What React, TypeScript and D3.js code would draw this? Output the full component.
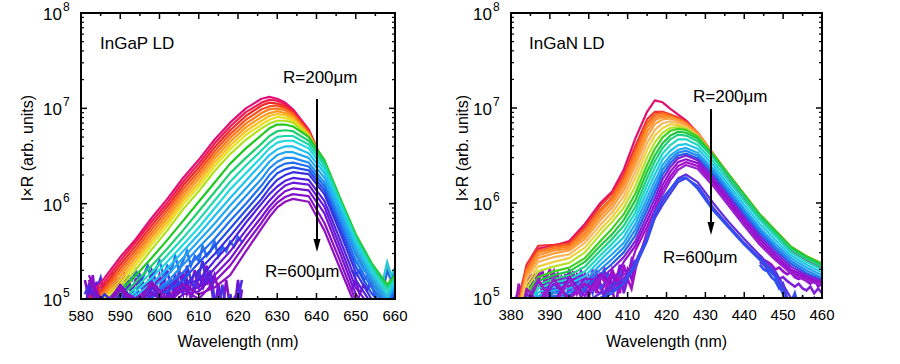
import React from "react";
import * as d3 from "d3";

// wavelength grids (nm) and log10(I x R) for each spectrum, R = 200um (first) ... 600um (last)
const ingapWl = [582, 586, 590, 594, 598, 602, 606, 610, 614, 618, 622, 626, 628, 630, 632, 634, 638, 642, 646, 650, 654, 658, 660];
const ingapLog = [
  [5.02, 5.22, 5.44, 5.63, 5.85, 6.05, 6.27, 6.46, 6.67, 6.85, 7.0, 7.1, 7.12, 7.1, 7.06, 6.99, 6.78, 6.4, 5.95, 5.48, 5.18, 4.95, 5.1],
  [4.98, 5.18, 5.4, 5.6, 5.81, 6.01, 6.23, 6.42, 6.63, 6.81, 6.96, 7.06, 7.09, 7.08, 7.04, 6.97, 6.77, 6.4, 5.96, 5.5, 5.2, 4.97, 5.12],
  [4.95, 5.14, 5.36, 5.56, 5.77, 5.97, 6.19, 6.38, 6.59, 6.77, 6.92, 7.03, 7.06, 7.05, 7.02, 6.96, 6.76, 6.41, 5.97, 5.52, 5.22, 5.0, 5.13],
  [4.92, 5.11, 5.32, 5.52, 5.73, 5.93, 6.15, 6.34, 6.55, 6.73, 6.88, 6.99, 7.02, 7.03, 7.0, 6.95, 6.75, 6.42, 5.98, 5.54, 5.24, 5.02, 5.15],
  [4.9, 5.08, 5.28, 5.48, 5.69, 5.89, 6.11, 6.3, 6.51, 6.69, 6.84, 6.95, 6.99, 7.0, 6.98, 6.93, 6.74, 6.42, 5.99, 5.56, 5.26, 5.04, 5.17],
  [4.88, 5.05, 5.24, 5.44, 5.65, 5.85, 6.07, 6.26, 6.47, 6.65, 6.8, 6.91, 6.95, 6.97, 6.95, 6.91, 6.73, 6.43, 6.0, 5.58, 5.28, 5.06, 5.19],
  [4.85, 5.02, 5.2, 5.4, 5.61, 5.81, 6.03, 6.22, 6.43, 6.61, 6.76, 6.87, 6.92, 6.94, 6.93, 6.89, 6.72, 6.43, 6.01, 5.6, 5.3, 5.08, 5.2],
  [4.82, 4.99, 5.16, 5.36, 5.57, 5.77, 5.99, 6.18, 6.39, 6.57, 6.72, 6.83, 6.88, 6.91, 6.9, 6.87, 6.71, 6.44, 6.02, 5.62, 5.32, 5.1, 5.22],
  [4.8, 4.95, 5.12, 5.31, 5.52, 5.72, 5.94, 6.13, 6.34, 6.52, 6.67, 6.79, 6.84, 6.87, 6.87, 6.85, 6.71, 6.44, 6.03, 5.64, 5.35, 5.12, 5.24],
  [4.8, 4.92, 5.08, 5.25, 5.43, 5.62, 5.82, 6.02, 6.22, 6.42, 6.58, 6.72, 6.79, 6.83, 6.83, 6.81, 6.7, 6.46, 6.06, 5.68, 5.38, 5.15, 5.25],
  [4.75, 4.88, 5.02, 5.18, 5.35, 5.53, 5.72, 5.92, 6.12, 6.32, 6.48, 6.63, 6.71, 6.76, 6.77, 6.76, 6.66, 6.43, 6.04, 5.66, 5.36, 5.12, 5.22],
  [4.7, 4.85, 4.98, 5.12, 5.28, 5.46, 5.64, 5.83, 6.03, 6.23, 6.4, 6.56, 6.64, 6.7, 6.71, 6.71, 6.62, 6.4, 6.02, 5.63, 5.33, 5.1, 5.2],
  [4.7, 4.82, 4.95, 5.08, 5.22, 5.39, 5.57, 5.75, 5.95, 6.15, 6.32, 6.49, 6.58, 6.64, 6.66, 6.66, 6.58, 6.36, 5.99, 5.6, 5.3, 5.06, 5.18],
  [4.65, 4.8, 4.92, 5.04, 5.16, 5.32, 5.5, 5.68, 5.87, 6.06, 6.24, 6.42, 6.51, 6.57, 6.6, 6.6, 6.53, 6.32, 5.95, 5.56, 5.26, 5.02, 5.15],
  [4.6, 4.78, 4.9, 5.0, 5.1, 5.25, 5.43, 5.61, 5.79, 5.98, 6.16, 6.34, 6.44, 6.51, 6.54, 6.54, 6.48, 6.27, 5.9, 5.51, 5.22, 4.98, 5.12],
  [4.6, 4.75, 4.88, 4.96, 5.05, 5.18, 5.36, 5.54, 5.71, 5.9, 6.08, 6.26, 6.37, 6.44, 6.48, 6.48, 6.43, 6.22, 5.85, 5.46, 5.18, 4.95, 5.1],
  [4.85, 5.05, 4.9, 5.0, 5.05, 5.15, 5.28, 5.46, 5.63, 5.82, 6.0, 6.19, 6.3, 6.38, 6.42, 6.43, 6.39, 6.18, 5.8, 5.4, 5.12, 4.92, 5.08],
  [4.8, 5.0, 4.95, 4.9, 5.02, 5.08, 5.2, 5.38, 5.55, 5.74, 5.93, 6.12, 6.23, 6.32, 6.36, 6.38, 6.35, 6.14, 5.75, 5.34, 5.06, 4.88, 5.05],
  [4.8, 5.05, 4.9, 4.95, 4.98, 5.02, 5.12, 5.3, 5.47, 5.66, 5.86, 6.05, 6.16, 6.25, 6.3, 6.33, 6.31, 6.1, 5.7, 5.28, 5.0, 4.85, 5.02],
  [5.1, 4.85, 5.05, 4.9, 5.12, 4.95, 5.15, 5.2, 5.4, 5.58, 5.8, 6.0, 6.1, 6.18, 6.24, 6.27, 6.25, 6.03, 5.62, 5.2, 4.95, 4.85, 5.0],
  [5.15, 4.9, 5.1, 4.88, 5.05, 5.0, 5.1, 5.12, 5.32, 5.5, 5.72, 5.93, 6.03, 6.12, 6.19, 6.22, 6.2, 5.97, 5.55, 5.12, 4.9, 4.8, 4.95],
  [5.2, 4.92, 5.15, 4.95, 5.08, 4.9, 5.05, 5.08, 5.25, 5.42, 5.65, 5.86, 5.97, 6.06, 6.13, 6.16, 6.14, 5.9, 5.48, 5.05, 4.85, 4.8, 4.9],
  [5.25, 4.9, 5.1, 5.0, 5.15, 4.95, 5.1, 5.0, 5.18, 5.35, 5.58, 5.8, 5.92, 6.01, 6.07, 6.1, 6.08, 5.8, 5.4, 4.98, 4.8, 4.75, 4.85],
  [5.2, 4.95, 5.12, 4.92, 5.18, 5.0, 5.15, 5.05, 5.12, 5.25, 5.5, 5.74, 5.86, 5.96, 6.02, 6.05, 6.02, 5.72, 5.32, 4.92, 4.75, 4.7, 4.8],
];
const ingapColors = [
  "#e0107a", "#f01850", "#f02828", "#f85020", "#ff7a18", "#ff9a20", "#f8c020", "#e8e020",
  "#b0e020", "#20c820", "#20d070", "#20d8b0", "#20d8e0", "#20c0f0", "#20a8f0", "#2090f0",
  "#2070f0", "#2050e8", "#3830e0", "#5020e0", "#6818d8", "#7810d0", "#8810c8", "#9010c0",
];

// noisy low-signal parts of the weakest spectra, 1 nm steps
const ingapFloorBlueStart = 581;
const ingapFloorBlue = [
  [5.2, 5.0, 5.25, 4.9, 5.05, 5.15, 4.95, 5.1, 5.2, 4.9, 5.0, 5.15, 5.05, 5.22, 4.95, 5.1, 5.18, 5.0, 5.12, 5.25, 5.05, 5.15, 5.0, 5.2, 5.1, 5.28, 5.05, 5.15, 5.3, 5.12, 5.2, 5.35, 5.1, 5.25, 5.1, 4.85, 5.2, 4.9, 5.0, 4.8, 5.1],
  [4.9, 5.12, 5.0, 5.18, 4.95, 5.05, 5.2, 5.0, 4.92, 5.15, 5.25, 4.95, 5.1, 5.0, 5.2, 5.05, 4.95, 5.22, 5.05, 5.1, 5.25, 5.0, 5.18, 5.05, 5.3, 5.1, 5.2, 5.0, 5.15, 5.3, 5.1, 5.25, 5.2, 4.9, 5.15, 4.95, 4.8, 5.05, 4.85, 5.2, 4.9],
  [4.8, 4.9, 5.0, 4.85, 5.05, 5.1, 4.9, 5.15, 5.05, 5.2, 5.1, 5.25, 5.2, 5.3, 5.15, 5.25, 5.35, 5.2, 5.3, 5.4, 5.25, 5.35, 5.3, 5.45, 5.3, 5.4, 5.5, 5.35, 5.45, 5.4, 5.55, 5.45, 5.5, 5.6, 5.45, 5.55, 5.5, 5.6, 5.55, 5.65, 5.6],
  [5.05, 5.15, 4.95, 5.1, 5.22, 5.0, 5.12, 5.25, 5.05, 5.18, 4.95, 5.2, 5.1, 5.0, 5.25, 5.15, 5.05, 5.3, 5.2, 5.0, 5.15, 5.3, 5.1, 5.25, 5.15, 5.05, 5.35, 5.2, 5.1, 5.25, 5.4, 5.15, 5.3, 5.0, 4.85, 5.15, 4.9, 5.05, 4.8, 5.0, 5.2],
];
const ingapFloorRedStart = 649;
const ingapFloorRed = [
  [5.1, 5.2, 5.05, 5.15, 5.1, 5.2, 5.0, 4.85, 5.0, 5.15, 5.1, 5.2],
  [5.3, 5.25, 5.3, 5.2, 5.25, 5.15, 5.05, 4.9, 5.1, 5.3, 5.2, 5.3],
  [5.45, 5.4, 5.38, 5.3, 5.32, 5.25, 5.1, 5.0, 5.2, 5.38, 5.25, 5.32],
];
const ingapFloorColors = ["#8a10c8", "#6a18d8", "#2a70f0", "#4a30e0"];
const ingapFloorRedColors = ["#8a10c8", "#2a60f0", "#30c8d0"];

const inganWl = [381, 384, 387, 391, 395, 399, 403, 406, 409, 412, 415, 417, 419, 421, 423, 425, 428, 432, 436, 440, 444, 448, 452, 456, 460];
const inganLog = [
  [4.8, 5.3, 5.52, 5.55, 5.6, 5.78, 6.0, 6.12, 6.35, 6.68, 6.96, 7.08, 7.06, 6.99, 6.93, 6.87, 6.74, 6.5, 6.26, 6.05, 5.84, 5.67, 5.5, 5.4, 5.32],
  [4.8, 5.35, 5.55, 5.56, 5.58, 5.75, 5.97, 6.1, 6.3, 6.6, 6.88, 6.96, 6.96, 6.93, 6.9, 6.85, 6.74, 6.51, 6.28, 6.07, 5.86, 5.69, 5.52, 5.42, 5.34],
  [4.75, 5.3, 5.5, 5.54, 5.56, 5.72, 5.93, 6.06, 6.26, 6.55, 6.84, 6.93, 6.95, 6.92, 6.89, 6.85, 6.74, 6.52, 6.29, 6.08, 5.87, 5.7, 5.53, 5.43, 5.35],
  [4.75, 5.28, 5.48, 5.52, 5.54, 5.68, 5.9, 6.03, 6.22, 6.5, 6.8, 6.9, 6.93, 6.91, 6.88, 6.84, 6.74, 6.52, 6.3, 6.09, 5.88, 5.71, 5.54, 5.44, 5.36],
  [4.7, 5.25, 5.45, 5.5, 5.52, 5.65, 5.86, 5.99, 6.18, 6.45, 6.75, 6.87, 6.91, 6.9, 6.87, 6.83, 6.73, 6.52, 6.3, 6.09, 5.88, 5.71, 5.54, 5.44, 5.36],
  [4.7, 5.22, 5.42, 5.47, 5.5, 5.62, 5.82, 5.95, 6.13, 6.4, 6.7, 6.83, 6.88, 6.89, 6.86, 6.82, 6.72, 6.51, 6.29, 6.08, 5.87, 5.7, 5.53, 5.43, 5.35],
  [4.7, 5.2, 5.38, 5.43, 5.46, 5.58, 5.77, 5.9, 6.07, 6.33, 6.63, 6.77, 6.84, 6.86, 6.84, 6.8, 6.71, 6.5, 6.28, 6.07, 5.86, 5.69, 5.52, 5.42, 5.34],
  [4.65, 5.15, 5.33, 5.38, 5.42, 5.53, 5.72, 5.85, 6.01, 6.26, 6.56, 6.71, 6.79, 6.83, 6.82, 6.79, 6.7, 6.5, 6.28, 6.07, 5.86, 5.69, 5.52, 5.42, 5.34],
  [4.65, 5.1, 5.28, 5.33, 5.37, 5.48, 5.67, 5.8, 5.95, 6.18, 6.48, 6.64, 6.74, 6.79, 6.8, 6.78, 6.7, 6.5, 6.29, 6.08, 5.87, 5.7, 5.53, 5.43, 5.35],
  [4.6, 5.05, 5.22, 5.28, 5.32, 5.42, 5.6, 5.73, 5.88, 6.1, 6.4, 6.57, 6.69, 6.76, 6.78, 6.77, 6.7, 6.51, 6.3, 6.09, 5.88, 5.71, 5.54, 5.44, 5.36],
  [4.6, 5.0, 5.18, 5.24, 5.28, 5.38, 5.55, 5.67, 5.82, 6.03, 6.33, 6.5, 6.63, 6.71, 6.75, 6.74, 6.68, 6.5, 6.29, 6.08, 5.87, 5.7, 5.53, 5.43, 5.35],
  [4.55, 4.95, 5.14, 5.2, 5.24, 5.33, 5.5, 5.62, 5.76, 5.96, 6.26, 6.44, 6.58, 6.67, 6.72, 6.71, 6.65, 6.48, 6.27, 6.06, 5.85, 5.68, 5.51, 5.41, 5.33],
  [4.55, 4.92, 5.1, 5.16, 5.2, 5.28, 5.45, 5.57, 5.7, 5.9, 6.19, 6.37, 6.52, 6.61, 6.67, 6.67, 6.61, 6.44, 6.23, 6.02, 5.82, 5.65, 5.48, 5.38, 5.3],
  [4.5, 4.9, 5.06, 5.12, 5.15, 5.23, 5.4, 5.52, 5.64, 5.84, 6.12, 6.3, 6.46, 6.55, 6.61, 6.62, 6.57, 6.4, 6.19, 5.98, 5.78, 5.61, 5.45, 5.35, 5.27],
  [4.5, 4.88, 5.02, 5.08, 5.1, 5.18, 5.35, 5.46, 5.58, 5.78, 6.05, 6.23, 6.4, 6.5, 6.56, 6.58, 6.53, 6.36, 6.15, 5.94, 5.74, 5.57, 5.42, 5.32, 5.24],
  [4.5, 4.85, 4.98, 5.05, 5.06, 5.14, 5.3, 5.41, 5.53, 5.72, 5.99, 6.17, 6.35, 6.46, 6.53, 6.55, 6.5, 6.33, 6.12, 5.91, 5.71, 5.54, 5.39, 5.29, 5.21],
  [4.5, 4.82, 4.95, 5.02, 5.03, 5.1, 5.25, 5.36, 5.48, 5.66, 5.93, 6.11, 6.3, 6.42, 6.5, 6.52, 6.47, 6.3, 6.09, 5.88, 5.68, 5.51, 5.36, 5.26, 5.19],
  [4.5, 5.05, 4.92, 5.15, 5.0, 5.2, 5.2, 5.31, 5.43, 5.6, 5.87, 6.05, 6.25, 6.38, 6.47, 6.5, 6.45, 6.27, 6.06, 5.85, 5.65, 5.48, 5.33, 5.24, 5.18],
  [4.5, 4.9, 5.18, 4.95, 5.22, 5.02, 5.25, 5.15, 5.38, 5.55, 5.81, 5.99, 6.19, 6.33, 6.43, 6.46, 6.42, 6.24, 6.03, 5.82, 5.62, 5.45, 5.3, 5.22, 5.16],
  [4.5, 5.1, 4.95, 5.2, 4.98, 5.15, 5.05, 5.28, 5.12, 5.5, 5.75, 5.93, 6.14, 6.28, 6.39, 6.43, 6.39, 6.21, 6.0, 5.79, 5.59, 5.42, 5.28, 5.2, 5.15],
  [4.5, 4.95, 5.2, 4.92, 5.18, 4.97, 5.22, 5.08, 5.25, 5.3, 5.7, 5.88, 6.09, 6.24, 6.35, 6.4, 6.36, 6.18, 5.97, 5.76, 5.56, 5.4, 5.26, 5.18, 5.14],
  [4.5, 4.7, 4.82, 4.88, 4.9, 4.95, 5.05, 5.12, 5.2, 5.38, 5.64, 5.86, 6.02, 6.14, 6.26, 6.3, 6.22, 6.0, 5.8, 5.62, 5.45, 5.28, 5.0, 4.9, 4.88],
  [4.5, 4.7, 4.8, 4.85, 4.88, 4.92, 5.0, 5.08, 5.15, 5.33, 5.6, 5.84, 5.98, 6.1, 6.22, 6.26, 6.18, 5.95, 5.76, 5.58, 5.42, 5.25, 4.92, 4.8, 4.8],
  [4.5, 4.7, 4.8, 4.85, 4.88, 4.9, 4.98, 5.05, 5.15, 5.35, 5.62, 5.9, 6.05, 6.15, 6.25, 6.27, 6.15, 5.92, 5.74, 5.56, 5.4, 5.22, 4.85, 4.7, 4.7],
];
const inganColors = [
  "#e01070", "#f03030", "#f86020", "#ff8020", "#ff9030", "#ffa040", "#f8b860", "#f0d040",
  "#b8e030", "#40d020", "#20c840", "#20d080", "#20d8c0", "#20c8e8", "#20a8f0", "#2088f0",
  "#2060e8", "#8020d8", "#9010d0", "#a010c8", "#9820d0", "#6030e0", "#4040e8", "#3050f0",
];

const inganFloorBlueStart = 381;
const inganFloorBlue = [
  [4.9, 4.95, 5.05, 5.2, 5.1, 5.25, 5.15, 5.3, 5.1, 5.2, 5.28, 5.05, 5.22, 5.15, 5.3, 5.1, 5.25, 5.2, 5.05, 5.22, 5.12, 5.28, 5.15, 5.0, 5.2, 5.1, 4.9, 5.25, 5.15, 5.3, 5.2, 5.35],
  [5.0, 4.85, 5.15, 5.1, 5.25, 5.05, 5.2, 5.1, 5.25, 5.05, 5.15, 5.22, 5.1, 5.25, 5.05, 5.2, 5.12, 5.28, 5.15, 5.0, 5.25, 5.1, 5.2, 5.3, 5.05, 5.25, 5.15, 5.35, 5.05, 5.2, 5.4, 5.3],
  [4.95, 5.1, 4.9, 5.05, 5.0, 5.12, 4.95, 5.05, 5.15, 5.0, 5.1, 5.05, 5.15, 5.0, 5.12, 5.05, 5.18, 5.0, 5.1, 5.15, 5.05, 5.2, 5.1, 5.15, 5.25, 5.1, 5.2, 5.3, 5.15, 5.25, 5.35, 5.4],
  [4.85, 5.15, 5.0, 5.25, 5.2, 5.1, 5.28, 5.05, 5.2, 5.3, 5.15, 5.25, 5.05, 5.2, 5.1, 5.28, 5.05, 5.15, 5.25, 5.1, 5.3, 5.05, 5.25, 5.2, 5.1, 5.3, 5.2, 5.05, 5.35, 5.2, 5.1, 5.3],
];
const inganFloorRedStart = 444;
const inganFloorRed = [
  [5.45, 5.4, 5.38, 5.35, 5.3, 5.32, 5.28, 5.25, 5.27, 5.22, 5.2, 5.22, 5.18, 5.15, 5.2, 5.12, 5.15],
  [5.38, 5.35, 5.3, 5.28, 5.25, 5.2, 5.22, 5.18, 5.15, 5.12, 5.15, 5.1, 5.08, 5.12, 5.05, 5.1, 5.05],
  [5.35, 5.3, 5.28, 5.22, 5.18, 5.1, 5.15, 5.0, 4.95, 5.05, 4.9, 5.0, 4.85, 4.95, 5.0, 4.9, 4.95],
];
const inganFloorColors = ["#9010d0", "#7a20e0", "#3050f0", "#a010c8"];
const inganFloorRedColors = ["#9a10cc", "#8020d8", "#3050f0"];

const ingapTicks = [580, 590, 600, 610, 620, 630, 640, 650, 660];
const inganTicks = [380, 390, 400, 410, 420, 430, 440, 450, 460];
const decades = [5, 6, 7, 8];

const FONT = "'Liberation Sans', Arial, sans-serif";

type Floor = { start: number; traces: number[][]; colors: string[] };

type PanelProps = {
  id: string;
  left: number;
  right: number;
  top: number;
  bottom: number;
  xTicks: number[];
  wl: number[];
  curves: number[][];
  colors: string[];
  floors: Floor[];
  label: string;
  labelX: number;
  yTitleX: number;
  r200: [number, number];
  r600: [number, number];
  arrow: [number, number, number];
};

function Panel(p: PanelProps) {
  const x = d3.scaleLinear().domain([p.xTicks[0], p.xTicks[p.xTicks.length - 1]]).range([p.left, p.right]);
  const y = d3.scaleLog().domain([1e5, 1e8]).range([p.bottom, p.top]);
  const line = d3
    .line<number>()
    .x((_, i) => x(p.wl[i]))
    .y((v) => y(Math.pow(10, v)));

  const minorX = d3.range(p.xTicks[0] + 5, p.xTicks[p.xTicks.length - 1], 10);
  const minorY: number[] = [];
  decades.slice(0, 3).forEach((e) => {
    for (let m = 2; m <= 9; m++) minorY.push(m * Math.pow(10, e));
  });
  const [ax, ay0, ay1] = p.arrow;

  return (
    <g>
      <defs>
        <clipPath id={"clip-" + p.id}>
          <rect x={p.left} y={p.top} width={p.right - p.left} height={p.bottom - p.top} />
        </clipPath>
      </defs>
      <g clipPath={`url(#clip-${p.id})`}>
        {p.floors.map((f, fi) =>
          f.traces.map((tr, i) => {
            const fl = d3
              .line<number>()
              .x((_, j) => x(f.start + j))
              .y((v) => y(Math.pow(10, v)));
            return (
              <path key={`f${fi}-${i}`} d={fl(tr) ?? ""} fill="none" stroke={f.colors[i]} strokeWidth={2.6} />
            );
          })
        )}
        {p.curves.map((c, i) => (
          <path key={i} d={line(c) ?? ""} fill="none" stroke={p.colors[i]} strokeWidth={2.2} strokeLinejoin="round" />
        ))}
      </g>

      {/* ticks on all four sides, pointing inward */}
      {p.xTicks.map((t) => (
        <g key={"xt" + t}>
          <line x1={x(t)} x2={x(t)} y1={p.bottom} y2={p.bottom - 6} stroke="#000" strokeWidth={1.5} />
          <line x1={x(t)} x2={x(t)} y1={p.top} y2={p.top + 6} stroke="#000" strokeWidth={1.5} />
          <text x={x(t)} y={p.bottom + 22} textAnchor="middle" fontSize={15} fontFamily={FONT}>
            {t}
          </text>
        </g>
      ))}
      {minorX.map((t) => (
        <g key={"xm" + t}>
          <line x1={x(t)} x2={x(t)} y1={p.bottom} y2={p.bottom - 3} stroke="#000" strokeWidth={1.5} />
          <line x1={x(t)} x2={x(t)} y1={p.top} y2={p.top + 3} stroke="#000" strokeWidth={1.5} />
        </g>
      ))}
      {decades.map((e) => (
        <g key={"yt" + e}>
          <line x1={p.left} x2={p.left + 6} y1={y(Math.pow(10, e))} y2={y(Math.pow(10, e))} stroke="#000" strokeWidth={1.5} />
          <line x1={p.right} x2={p.right - 6} y1={y(Math.pow(10, e))} y2={y(Math.pow(10, e))} stroke="#000" strokeWidth={1.5} />
          <text x={p.left - 19} y={y(Math.pow(10, e)) + 7} textAnchor="end" fontSize={17} fontFamily={FONT}>
            10
          </text>
          <text x={p.left - 18} y={y(Math.pow(10, e)) - 2} fontSize={12} fontFamily={FONT}>
            {e}
          </text>
        </g>
      ))}
      {minorY.map((v) => (
        <g key={"ym" + v}>
          <line x1={p.left} x2={p.left + 3} y1={y(v)} y2={y(v)} stroke="#000" strokeWidth={1.2} />
          <line x1={p.right} x2={p.right - 3} y1={y(v)} y2={y(v)} stroke="#000" strokeWidth={1.2} />
        </g>
      ))}
      <rect x={p.left} y={p.top} width={p.right - p.left} height={p.bottom - p.top} fill="none" stroke="#000" strokeWidth={2} />

      <text x={(p.left + p.right) / 2} y={347} textAnchor="middle" fontSize={16} fontFamily={FONT}>
        Wavelength (nm)
      </text>
      <text
        transform={`translate(${p.yTitleX},148) rotate(-90)`}
        textAnchor="middle"
        fontSize={16}
        fontFamily={FONT}
      >
        I×R (arb. units)
      </text>

      <text x={p.labelX} y={49} fontSize={17} fontFamily={FONT}>
        {p.label}
      </text>
      <text x={p.r200[0]} y={p.r200[1]} fontSize={17} fontFamily={FONT}>
        R=200μm
      </text>
      <text x={p.r600[0]} y={p.r600[1]} fontSize={17} fontFamily={FONT}>
        R=600μm
      </text>
      <line x1={ax} x2={ax} y1={ay0} y2={ay1 - 10} stroke="#000" strokeWidth={2} />
      <path d={`M${ax - 3.5},${ay1 - 13} L${ax + 3.5},${ay1 - 13} L${ax},${ay1} Z`} fill="#000" />
    </g>
  );
}

export default function App() {
  return (
    <svg width={900} height={364} style={{ position: "absolute", left: 0, top: 0, background: "#fff" }}>
      <rect width={900} height={364} fill="#fff" />
      <Panel
        id="ingap"
        left={81}
        right={395}
        top={13}
        bottom={299}
        xTicks={ingapTicks}
        wl={ingapWl}
        curves={ingapLog}
        colors={ingapColors}
        floors={[
          { start: ingapFloorBlueStart, traces: ingapFloorBlue, colors: ingapFloorColors },
          { start: ingapFloorRedStart, traces: ingapFloorRed, colors: ingapFloorRedColors },
        ]}
        label="InGaP LD"
        labelX={100}
        yTitleX={33}
        r200={[283, 83]}
        r600={[265, 277]}
        arrow={[317, 99, 252]}
      />
      <Panel
        id="ingan"
        left={511}
        right={822}
        top={13}
        bottom={298}
        xTicks={inganTicks}
        wl={inganWl}
        curves={inganLog}
        colors={inganColors}
        floors={[
          { start: inganFloorBlueStart, traces: inganFloorBlue, colors: inganFloorColors },
          { start: inganFloorRedStart, traces: inganFloorRed, colors: inganFloorRedColors },
        ]}
        label="InGaN LD"
        labelX={529}
        yTitleX={468}
        r200={[693, 102]}
        r600={[663, 263]}
        arrow={[711, 109, 235]}
      />
    </svg>
  );
}
